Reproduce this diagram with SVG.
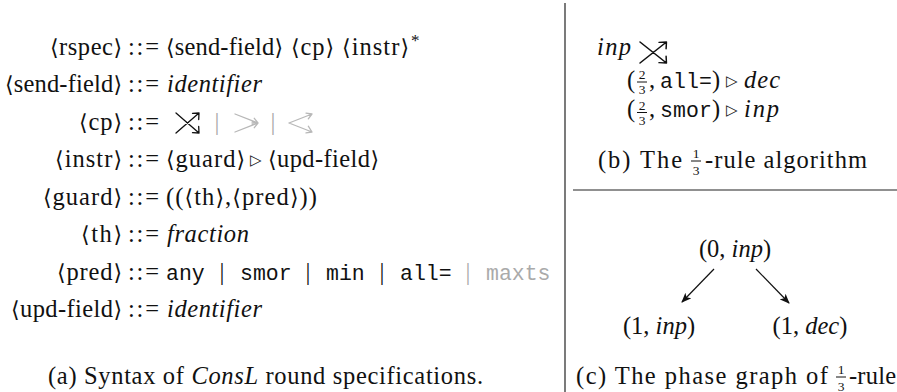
<svg xmlns="http://www.w3.org/2000/svg" width="897" height="392" viewBox="0 0 897 392">
<style>
.t{font-family:'Liberation Serif',serif;font-size:24.5px;fill:#111}
.b{font-family:'DejaVu Sans',sans-serif;font-size:22px;font-weight:normal}
.i{font-style:italic}
.m{font-family:'Liberation Mono',monospace;font-size:21.5px;fill:#111}
.g{fill:#aaa}
.f{font-family:'Liberation Serif',serif;font-size:13.5px;fill:#111}
.tri{font-family:'DejaVu Sans',sans-serif;font-size:15px;fill:#111}
.sym{fill:none;stroke:#111;stroke-width:1.3;stroke-linecap:round;stroke-linejoin:round}
.symg{stroke:#b8b8b8}
.rule{stroke:#222;stroke-width:1.2}
.fb{stroke:#111;stroke-width:1}
.edge{stroke:#111;stroke-width:1.2;fill:none;marker-end:url(#ah)}
</style>
<defs>
<marker id="ah" viewBox="0 0 10 8" refX="9" refY="4" markerWidth="10" markerHeight="8" markerUnits="userSpaceOnUse" orient="auto"><path d="M0,0 L10,4 L0,8 L2.5,4 z" fill="#111"/></marker>
<path id="s-all" d="M0,0 L23,20 M0,20 L23,0 M16.5,0.3 L23,0 L22.7,6.5 M16.5,19.7 L23,20 L22.7,13.5"/>
<path id="s-in" d="M0,1 L23,10 M0,19 L23,10 M19.3,5.3 L23,10 L17.1,10.9 M19.3,14.7 L23,10 L17.1,9.1"/>
<path id="s-out" d="M0,10 L23,1 M0,10 L23,19 M17,0.2 L23,1 L19.3,5.8 M17,19.8 L23,19 L19.3,13.2"/>
</defs>
<rect width="897" height="392" fill="#fff"/>

<g id="frame">
<line class="rule" x1="565" y1="3" x2="565" y2="392"/>
<line class="rule" x1="573" y1="190" x2="897" y2="190"/>
</g>

<g id="grammar">
<g id="row-rspec">
<text class="t" x="50" y="55" textLength="72"><tspan class="b">⟨</tspan>rspec<tspan class="b">⟩</tspan></text>
<text class="t" x="128" y="55" textLength="31">::=</text>
<text class="t" x="166" y="55" textLength="117"><tspan class="b">⟨</tspan>send-field<tspan class="b">⟩</tspan></text>
<text class="t" x="291" y="55" textLength="43"><tspan class="b">⟨</tspan>cp<tspan class="b">⟩</tspan></text>
<text class="t" x="342" y="55" textLength="67"><tspan class="b">⟨</tspan>instr<tspan class="b">⟩</tspan></text>
<text class="t" x="411" y="46" style="font-size:17px">*</text>
</g>
<g id="row-send-field">
<text class="t" x="5" y="92" textLength="117"><tspan class="b">⟨</tspan>send-field<tspan class="b">⟩</tspan></text>
<text class="t" x="128" y="92" textLength="31">::=</text>
<text class="t i" x="167" y="92" textLength="95">identifier</text>
</g>
<g id="row-cp">
<text class="t" x="79" y="130" textLength="43"><tspan class="b">⟨</tspan>cp<tspan class="b">⟩</tspan></text>
<text class="t" x="128" y="130" textLength="31">::=</text>
<use href="#s-all" class="sym" transform="translate(176,113)"/>
<text class="t g" x="217" y="130" text-anchor="middle">|</text>
<use href="#s-in" class="sym symg" transform="translate(235,113)"/>
<text class="t g" x="273" y="130" text-anchor="middle">|</text>
<use href="#s-out" class="sym symg" transform="translate(289,113)"/>
</g>
<g id="row-instr">
<text class="t" x="55" y="167" textLength="67"><tspan class="b">⟨</tspan>instr<tspan class="b">⟩</tspan></text>
<text class="t" x="128" y="167" textLength="31">::=</text>
<text class="t" x="166" y="167" textLength="79"><tspan class="b">⟨</tspan>guard<tspan class="b">⟩</tspan></text>
<text class="tri" x="250" y="165">▷</text>
<text class="t" x="268" y="167" textLength="111"><tspan class="b">⟨</tspan>upd-field<tspan class="b">⟩</tspan></text>
</g>
<g id="row-guard">
<text class="t" x="43" y="205" textLength="79"><tspan class="b">⟨</tspan>guard<tspan class="b">⟩</tspan></text>
<text class="t" x="128" y="205" textLength="31">::=</text>
<text class="t" x="166" y="205" textLength="151">((<tspan class="b">⟨</tspan>th<tspan class="b">⟩</tspan>,<tspan class="b">⟨</tspan>pred<tspan class="b">⟩</tspan>))</text>
</g>
<g id="row-th">
<text class="t" x="81" y="242" textLength="41"><tspan class="b">⟨</tspan>th<tspan class="b">⟩</tspan></text>
<text class="t" x="128" y="242" textLength="31">::=</text>
<text class="t i" x="167" y="242" textLength="82">fraction</text>
</g>
<g id="row-pred">
<text class="t" x="57" y="280" textLength="65"><tspan class="b">⟨</tspan>pred<tspan class="b">⟩</tspan></text>
<text class="t" x="128" y="280" textLength="31">::=</text>
<text class="m" x="166" y="280">any</text>
<text class="t" x="222" y="280" text-anchor="middle">|</text>
<text class="m" x="240" y="280">smor</text>
<text class="t" x="308" y="280" text-anchor="middle">|</text>
<text class="m" x="326" y="280">min</text>
<text class="t" x="382" y="280" text-anchor="middle">|</text>
<text class="m" x="400" y="280">all=</text>
<text class="t g" x="468" y="280" text-anchor="middle">|</text>
<text class="m g" x="486" y="280">maxts</text>
</g>
<g id="row-upd-field">
<text class="t" x="11" y="317" textLength="111"><tspan class="b">⟨</tspan>upd-field<tspan class="b">⟩</tspan></text>
<text class="t" x="128" y="317" textLength="31">::=</text>
<text class="t i" x="167" y="317" textLength="95">identifier</text>
</g>
<text id="caption-a" class="t" x="48" y="384" textLength="435">(a) Syntax of <tspan class="i">ConsL</tspan> round specifications.</text>
</g>

<g id="algorithm">
<text class="t i" x="597" y="55" textLength="34">inp</text>
<use href="#s-all" class="sym" transform="translate(640,42) scale(1.15,1.05)"/>
<g id="instr-1">
<text class="t" x="627" y="88">(</text>
<text class="f" x="642" y="78.5" text-anchor="middle">2</text>
<line class="fb" x1="637" y1="82" x2="647" y2="82"/>
<text class="f" x="642" y="94" text-anchor="middle">3</text>
<text class="t" x="649" y="88">,</text>
<text class="m" x="660" y="88" textLength="52">all=</text>
<text class="t" x="712" y="88">)</text>
<text class="tri" x="726" y="86">▷</text>
<text class="t i" x="744" y="88" textLength="36">dec</text>
</g>
<g id="instr-2">
<text class="t" x="627" y="117">(</text>
<text class="f" x="642" y="110" text-anchor="middle">2</text>
<line class="fb" x1="637" y1="112.5" x2="647" y2="112.5"/>
<text class="f" x="642" y="125" text-anchor="middle">3</text>
<text class="t" x="649" y="117">,</text>
<text class="m" x="660" y="117" textLength="52">smor</text>
<text class="t" x="712" y="117">)</text>
<text class="tri" x="726" y="115">▷</text>
<text class="t i" x="744" y="117" textLength="35">inp</text>
</g>
<g id="caption-b">
<text class="t" x="598" y="168" textLength="84">(b) The</text>
<text class="f" x="696" y="158" text-anchor="middle">1</text>
<line class="fb" x1="691" y1="161" x2="701" y2="161"/>
<text class="f" x="696" y="174.5" text-anchor="middle">3</text>
<text class="t" x="705" y="168" textLength="162">-rule algorithm</text>
</g>
</g>

<g id="phase-graph">
<g id="node-0-inp"><text class="t" x="735" y="257" text-anchor="middle">(0, <tspan class="i">inp</tspan>)</text></g>
<g id="node-1-inp"><text class="t" x="659" y="334" text-anchor="middle">(1, <tspan class="i">inp</tspan>)</text></g>
<g id="node-1-dec"><text class="t" x="810" y="334" text-anchor="middle">(1, <tspan class="i">dec</tspan>)</text></g>
<g id="connectors">
<line class="edge" x1="714" y1="269" x2="682" y2="302"/>
<line class="edge" x1="756" y1="269" x2="789" y2="303"/>
</g>
<g id="caption-c">
<text class="t" x="576" y="384" textLength="252">(c) The phase graph of</text>
<text class="f" x="841" y="374" text-anchor="middle">1</text>
<line class="fb" x1="836" y1="377" x2="846" y2="377"/>
<text class="f" x="841" y="390.5" text-anchor="middle">3</text>
<text class="t" x="849" y="384" textLength="47">-rule</text>
</g>
</g>
</svg>
